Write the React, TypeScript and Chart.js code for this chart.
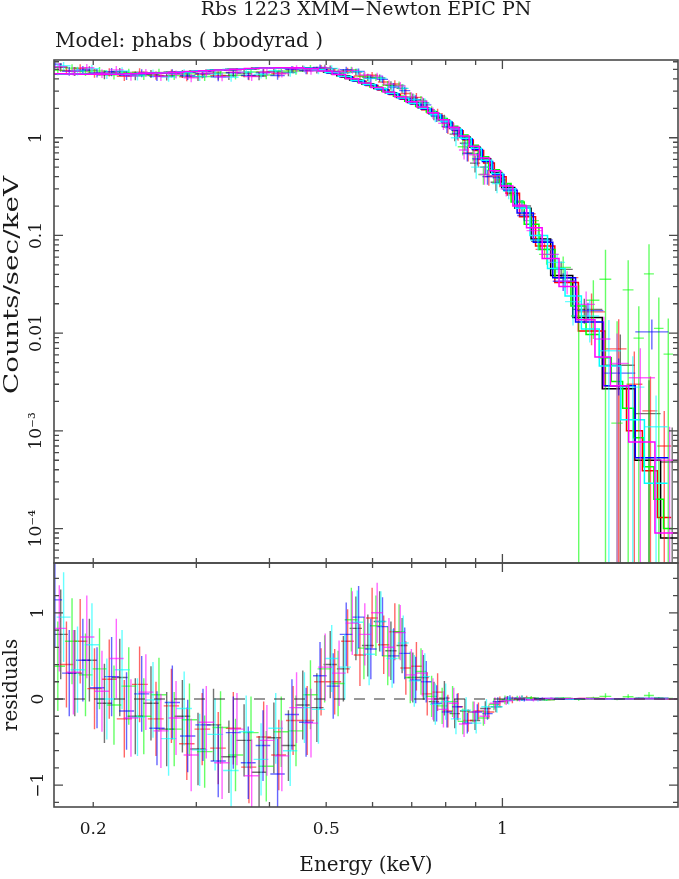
import { useEffect, useRef } from "react";
import { Chart, registerables } from "chart.js";

Chart.register(...registerables);

const W = 679;
const H = 879;

// ---- axis ranges ----
const X_MIN = 0.1714;
const X_MAX = 1.995;
const Y_MIN = 4.44e-5;
const Y_MAX = 6.25;
const R_MIN = -1.253;
const R_MAX = 1.578;

// ---- text ----
const titleText = "Rbs 1223 XMM\u2212Newton EPIC PN";
const modelText = "Model: phabs ( bbodyrad )";
const yTitleTop = "Counts/sec/keV";
const yTitleBottom = "residuals";
const xTitle = "Energy (keV)";

// ---- ticks ----
const xLabelValues = [0.2, 0.5, 1];
const xLabelText = ["0.2", "0.5", "1"];
const xMinorTickValues = [0.2, 0.3, 0.4, 0.5, 0.6, 0.7, 0.8, 0.9, 2];
const xMajorTickValues = [1];
const yLabelValues = [1e-4, 1e-3, 0.01, 0.1, 1];
const yLabelText = ["10\u207B\u2074", "10\u207B\u00B3", "0.01", "0.1", "1"];
const rLabelValues = [-1, 0, 1];
const rLabelText = ["\u22121", "0", "1"];
const rMinorTickValues = [-1.2, -0.8, -0.6, -0.4, -0.2, 0.2, 0.4, 0.6, 0.8, 1.2, 1.4];
const yMinorTickValues: number[] = [];
for (let p = -5; p <= 0; p++) for (let k = 2; k <= 9; k++) yMinorTickValues.push(k * Math.pow(10, p));

// ---- data: energy (keV), flux (counts/s/keV), 1-sigma error, residual, model ----
const blackE = [0.176,0.186,0.197,0.209,0.222,0.236,0.251,0.267,0.284,0.302,0.321,0.341,0.362,0.384,0.407,0.431,0.456,0.482,0.508,0.535,0.562,0.589,0.617,0.645,0.674,0.703,0.733,0.764,0.796,0.829,0.863,0.898,0.935,0.975,1.02,1.08,1.16,1.26,1.38,1.59,1.78,1.95];
const blackF = [5.26,4.79,4.92,4.42,4.73,4.32,4.51,4.28,4.51,4.22,4.59,4.31,4.59,4.29,4.74,4.67,5.10,4.94,5.10,4.65,4.72,4.17,4.10,3.44,3.20,2.55,2.28,1.74,1.52,1.09,0.88,0.55,0.50,0.35,0.30,0.20,0.087,0.045,0.0175,0.0047,0.0015,0.00048];
const blackS = [0.52,0.5,0.48,0.46,0.45,0.44,0.43,0.43,0.42,0.42,0.42,0.42,0.42,0.42,0.41,0.41,0.4,0.4,0.39,0.38,0.37,0.36,0.35,0.34,0.32,0.29,0.26,0.23,0.2,0.17,0.14,0.11,0.085,0.065,0.045,0.03,0.016,0.009,0.005,0.005,0.0018,0.0006];
const blackR = [0.75,0.30,0.45,-0.05,0.25,-0.20,-0.05,-0.35,-0.20,-0.58,-0.30,-0.67,-0.48,-0.85,-0.45,-0.54,-0.07,-0.10,0.40,0.35,0.82,0.62,0.90,0.56,0.62,0.25,0.25,-0.03,0.01,-0.17,-0.14,-0.25,-0.11,-0.09,-0.01,0.01,-0.005,0.006,0.003,0.002,0.001,0.0004];
const blackM = [4.51,4.49,4.47,4.47,4.48,4.52,4.56,4.63,4.71,4.80,4.89,4.98,5.07,5.14,5.19,5.21,5.17,5.04,4.70,4.30,3.90,3.55,3.20,2.88,2.58,2.30,2.03,1.77,1.51,1.26,1.02,0.80,0.61,0.44,0.31,0.19,0.092,0.039,0.0145,0.0027,0.0005,0.00008];

const redE = [0.180,0.190,0.201,0.213,0.226,0.240,0.256,0.272,0.289,0.307,0.327,0.347,0.369,0.391,0.415,0.439,0.464,0.490,0.517,0.544,0.571,0.599,0.627,0.655,0.684,0.713,0.744,0.775,0.807,0.840,0.874,0.910,0.948,0.990,1.04,1.10,1.18,1.28,1.42,1.58,1.68,1.79,1.89];
const redF = [4.90,5.15,4.59,4.70,4.26,4.70,4.35,4.57,4.21,4.47,4.35,4.67,4.30,4.72,4.55,4.95,4.88,5.15,4.77,4.84,4.29,4.37,3.72,3.55,2.84,2.59,2.00,1.76,1.28,1.09,0.70,0.60,0.40,0.37,0.26,0.167,0.072,0.037,0.0165,0.0069,0.0030,0.0016,0.0007];
const redS = [0.5,0.49,0.47,0.46,0.45,0.44,0.43,0.43,0.42,0.42,0.42,0.42,0.42,0.41,0.41,0.4,0.4,0.39,0.38,0.37,0.36,0.35,0.34,0.33,0.31,0.28,0.25,0.22,0.19,0.16,0.13,0.1,0.078,0.058,0.04,0.026,0.014,0.008,0.009,0.007,0.0035,0.002,0.0009];
const redR = [0.40,0.67,0.12,0.23,-0.23,0.17,-0.23,-0.08,-0.52,-0.35,-0.57,-0.34,-0.79,-0.44,-0.65,-0.25,-0.25,0.20,0.20,0.67,0.51,0.94,0.63,0.78,0.36,0.38,0.06,0.08,-0.14,-0.09,-0.25,-0.14,-0.15,-0.03,-0.01,0.012,-0.006,0.004,0.006,0.004,0.002,0.0012,0.0006];
const redM = [4.50,4.48,4.47,4.47,4.49,4.53,4.58,4.65,4.73,4.82,4.92,5.01,5.09,5.16,5.20,5.20,5.13,4.95,4.57,4.17,3.78,3.43,3.09,2.77,2.48,2.21,1.94,1.68,1.42,1.18,0.95,0.74,0.55,0.40,0.27,0.155,0.078,0.033,0.0105,0.0029,0.0010,0.00039,0.00013];

const greenE = [0.174,0.184,0.194,0.205,0.217,0.230,0.244,0.259,0.275,0.292,0.310,0.330,0.350,0.372,0.395,0.419,0.444,0.470,0.497,0.524,0.552,0.580,0.608,0.637,0.666,0.696,0.726,0.757,0.789,0.822,0.856,0.891,0.928,0.967,1.01,1.06,1.12,1.19,1.27,1.35,1.43,1.50,1.57,1.64,1.71,1.78,1.85,1.92];
const greenF = [4.89,5.16,4.76,4.82,4.41,4.65,4.34,4.65,4.32,4.51,4.23,4.61,4.37,4.71,4.39,4.82,4.83,5.15,5.19,4.64,4.97,4.26,4.16,3.47,3.44,2.62,2.41,1.86,1.49,1.28,0.81,0.69,0.42,0.41,0.33,0.226,0.142,0.064,0.047,0.015,0.0217,0.0356,0.0012,0.0277,0.0089,0.0404,0.0112,0.0061];
const greenS = [0.52,0.5,0.48,0.47,0.46,0.45,0.44,0.43,0.43,0.42,0.42,0.42,0.42,0.42,0.41,0.41,0.41,0.4,0.39,0.38,0.37,0.36,0.35,0.34,0.32,0.3,0.27,0.24,0.21,0.18,0.15,0.12,0.09,0.07,0.05,0.033,0.022,0.014,0.014,0.016,0.013,0.036,0.012,0.028,0.01,0.041,0.012,0.008];
const greenR = [0.38,0.67,0.28,0.35,-0.07,0.15,-0.20,0.05,-0.35,-0.24,-0.61,-0.33,-0.65,-0.39,-0.78,-0.38,-0.37,0.05,0.35,0.18,0.92,0.59,0.85,0.50,0.78,0.25,0.32,0.03,-0.08,-0.03,-0.26,-0.15,-0.22,-0.06,-0.01,0.006,0.012,-0.008,0.01,-0.004,0.012,0.03,-0.002,0.026,0.008,0.04,0.011,0.006];
const greenM = [4.51,4.49,4.48,4.47,4.48,4.50,4.54,4.60,4.67,4.75,4.84,4.94,5.02,5.10,5.17,5.20,5.20,5.10,4.84,4.46,4.05,3.67,3.31,2.97,2.66,2.37,2.09,1.83,1.57,1.31,1.07,0.84,0.64,0.47,0.34,0.22,0.13,0.072,0.037,0.019,0.0097,0.0056,0.0032,0.0017,0.00085,0.00043,0.0002,0.0001];

const blueE = [0.172,0.182,0.192,0.203,0.215,0.228,0.242,0.257,0.273,0.290,0.308,0.327,0.347,0.368,0.390,0.413,0.437,0.462,0.488,0.514,0.541,0.568,0.596,0.624,0.652,0.681,0.711,0.741,0.772,0.804,0.837,0.871,0.906,0.943,0.982,1.03,1.09,1.17,1.27,1.40,1.58,1.80];
const blueF = [5.67,4.80,4.93,4.60,4.73,4.35,4.59,4.25,4.61,4.31,4.53,4.20,4.62,4.35,4.61,4.33,5.03,4.88,5.23,4.76,4.96,4.77,4.05,3.96,3.31,3.04,2.45,2.17,1.66,1.30,1.11,0.69,0.61,0.40,0.39,0.30,0.16,0.090,0.034,0.017,0.0039,0.0103];
const blueS = [0.55,0.5,0.48,0.47,0.46,0.45,0.44,0.43,0.43,0.42,0.42,0.42,0.42,0.42,0.41,0.41,0.41,0.4,0.39,0.38,0.37,0.36,0.35,0.34,0.32,0.3,0.27,0.24,0.21,0.18,0.15,0.12,0.09,0.07,0.05,0.034,0.02,0.012,0.007,0.0035,0.0016,0.0035];
const blueR = [1.15,0.30,0.45,0.13,0.26,-0.14,0.06,-0.34,-0.04,-0.43,-0.30,-0.72,-0.39,-0.74,-0.54,-0.87,-0.18,-0.27,0.27,0.15,0.75,0.95,0.58,0.84,0.50,0.53,0.22,0.20,-0.05,-0.15,-0.09,-0.28,-0.15,-0.17,-0.03,0.01,-0.01,0.005,-0.003,0.004,0.001,0.0098];
const blueM = [4.52,4.50,4.48,4.47,4.47,4.49,4.53,4.59,4.65,4.74,4.83,4.92,5.01,5.09,5.15,5.20,5.21,5.15,4.96,4.61,4.21,3.82,3.47,3.12,2.81,2.51,2.23,1.97,1.71,1.45,1.20,0.97,0.76,0.57,0.42,0.29,0.17,0.085,0.037,0.013,0.0029,0.00053];

const cyanE = [0.178,0.188,0.199,0.211,0.224,0.238,0.253,0.269,0.286,0.304,0.323,0.344,0.365,0.387,0.410,0.434,0.459,0.485,0.511,0.538,0.565,0.592,0.620,0.648,0.677,0.707,0.737,0.768,0.800,0.833,0.867,0.902,0.939,0.979,1.025,1.08,1.15,1.24,1.32,1.41,1.52,1.67,1.83];
const cyanF = [5.45,4.83,5.10,4.47,4.82,4.31,4.56,4.18,4.61,4.22,4.49,4.16,4.70,4.45,4.85,4.61,5.06,4.88,5.13,4.63,4.75,4.03,4.07,3.32,3.20,2.47,2.26,1.68,1.45,1.00,0.86,0.50,0.50,0.34,0.285,0.198,0.090,0.053,0.021,0.015,0.0066,0.0028,0.0011];
const cyanS = [0.52,0.5,0.48,0.47,0.46,0.45,0.44,0.43,0.43,0.42,0.42,0.42,0.42,0.42,0.41,0.41,0.41,0.4,0.39,0.38,0.37,0.36,0.35,0.34,0.32,0.3,0.27,0.24,0.21,0.18,0.15,0.12,0.09,0.07,0.05,0.032,0.02,0.012,0.009,0.007,0.007,0.003,0.0012];
const cyanR = [0.95,0.34,0.63,0.00,0.34,-0.21,-0.01,-0.46,-0.11,-0.59,-0.41,-0.83,-0.38,-0.70,-0.34,-0.60,-0.10,-0.12,0.47,0.37,0.89,0.52,0.90,0.47,0.65,0.21,0.26,-0.06,-0.03,-0.23,-0.13,-0.28,-0.09,-0.09,-0.015,0.008,-0.01,0.007,-0.003,0.004,0.002,0.0015,0.0008];
const cyanM = [4.50,4.49,4.47,4.47,4.48,4.52,4.57,4.64,4.72,4.81,4.90,4.99,5.08,5.15,5.19,5.21,5.16,5.00,4.66,4.26,3.86,3.51,3.17,2.85,2.55,2.26,2.00,1.74,1.48,1.23,0.99,0.78,0.59,0.43,0.30,0.19,0.10,0.046,0.024,0.011,0.0046,0.0013,0.00029];

const magentaE = [0.175,0.185,0.195,0.207,0.219,0.232,0.246,0.261,0.277,0.294,0.312,0.332,0.352,0.373,0.396,0.420,0.445,0.471,0.498,0.526,0.554,0.582,0.611,0.640,0.669,0.699,0.730,0.761,0.793,0.826,0.860,0.895,0.932,0.971,1.015,1.07,1.13,1.21,1.29,1.39,1.49,1.57,1.72,1.93];
const magentaF = [5.33,4.80,5.20,4.56,4.95,4.29,4.63,4.24,4.46,4.11,4.58,4.21,4.68,4.22,4.69,4.54,5.10,4.82,5.20,4.73,4.90,4.39,4.27,3.54,3.40,2.62,2.36,1.80,1.41,1.23,0.75,0.67,0.42,0.41,0.30,0.205,0.112,0.064,0.034,0.0197,0.0087,0.0049,0.0035,0.0005];
const magentaS = [0.5,0.49,0.48,0.47,0.46,0.45,0.44,0.43,0.43,0.42,0.42,0.42,0.42,0.42,0.41,0.41,0.41,0.4,0.39,0.38,0.37,0.36,0.35,0.34,0.32,0.3,0.27,0.24,0.21,0.18,0.15,0.12,0.09,0.07,0.05,0.033,0.02,0.012,0.009,0.007,0.006,0.005,0.0035,0.0006];
const magentaR = [0.82,0.31,0.72,0.09,0.47,-0.22,0.08,-0.37,-0.22,-0.65,-0.27,-0.74,-0.35,-0.89,-0.48,-0.66,-0.10,-0.28,0.37,0.30,0.88,0.75,1.00,0.60,0.77,0.28,0.30,0.00,-0.12,-0.05,-0.29,-0.15,-0.20,-0.05,-0.02,0.005,-0.008,0.006,0.004,0.006,0.003,0.002,0.0027,0.0004];
const magentaM = [4.51,4.49,4.48,4.47,4.48,4.51,4.55,4.61,4.68,4.76,4.85,4.95,5.03,5.11,5.17,5.20,5.20,5.10,4.83,4.43,4.02,3.64,3.27,2.94,2.63,2.34,2.06,1.80,1.53,1.28,1.04,0.82,0.62,0.46,0.32,0.20,0.12,0.058,0.030,0.0137,0.0057,0.0029,0.00077,0.00009];

const SERIES = [
  { color: "#000000", alpha: 0.55, e: blackE, f: blackF, s: blackS, r: blackR, m: blackM },
  { color: "#ff0000", alpha: 0.6, e: redE, f: redF, s: redS, r: redR, m: redM },
  { color: "#00ff00", alpha: 0.6, e: greenE, f: greenF, s: greenS, r: greenR, m: greenM },
  { color: "#0000ff", alpha: 0.6, e: blueE, f: blueF, s: blueS, r: blueR, m: blueM },
  { color: "#00ffff", alpha: 0.6, e: cyanE, f: cyanF, s: cyanS, r: cyanR, m: cyanM },
  { color: "#ff00ff", alpha: 0.6, e: magentaE, f: magentaF, s: magentaS, r: magentaR, m: magentaM },
];

// ---- styling ----
const FONT = '"DejaVu Serif"';
const TEXT_COLOR = "#1a1a1a";
const FRAME_COLOR = "#4a4a4a";

function rgba(hex: string, a: number) {
  const n = parseInt(hex.slice(1), 16);
  return `rgba(${(n >> 16) & 255},${(n >> 8) & 255},${n & 255},${a})`;
}

function binEdges(e: number[]) {
  const lo: number[] = [];
  const hi: number[] = [];
  const n = e.length;
  for (let i = 0; i < n; i++) {
    lo.push(i > 0 ? Math.sqrt(e[i - 1] * e[i]) : e[i] / Math.sqrt(e[i + 1] / e[i]));
    hi.push(i < n - 1 ? Math.sqrt(e[i] * e[i + 1]) : e[i] * Math.sqrt(e[i] / e[i - 1]));
  }
  return { lo, hi };
}

function lineDs(data: any[], color: string, width: number, k: number, dash: number[] = []) {
  return {
    type: "line",
    data,
    borderColor: color,
    borderWidth: width,
    borderDash: dash,
    borderCapStyle: "butt",
    pointRadius: 0,
    pointHoverRadius: 0,
    fill: false,
    spanGaps: false,
    tension: 0,
    order: 10000 - k,
  };
}

function spectrumDatasets() {
  const ds: any[] = [];
  let k = 0;
  SERIES.forEach((sr) => {
    const { lo, hi } = binEdges(sr.e);
    const n = Math.min(sr.e.length, sr.f.length, sr.s.length, sr.m.length);
    const vb: any[] = [];
    const hb: any[] = [];
    const md: any[] = [];
    for (let i = 0; i < n; i++) {
      const f = sr.f[i];
      const s = sr.s[i];
      const low = f - s > 0 ? f - s : 1e-9;
      vb.push({ x: sr.e[i], y: low }, { x: sr.e[i], y: f + s }, { x: sr.e[i], y: null });
      hb.push({ x: lo[i], y: f }, { x: hi[i], y: f }, { x: hi[i], y: null });
      md.push({ x: lo[i], y: sr.m[i] }, { x: hi[i], y: sr.m[i] });
    }
    ds.push(lineDs(vb, rgba(sr.color, sr.alpha), 1.4, k++));
    ds.push(lineDs(hb, rgba(sr.color, sr.alpha), 1.4, k++));
    ds.push(lineDs(md, sr.color, 1.5, k++));
  });
  return ds;
}

function residualDatasets() {
  const ds: any[] = [];
  let k = 0;
  SERIES.forEach((sr) => {
    const { lo, hi } = binEdges(sr.e);
    const n = Math.min(sr.e.length, sr.r.length, sr.s.length);
    const vb: any[] = [];
    const hb: any[] = [];
    for (let i = 0; i < n; i++) {
      const r = sr.r[i];
      const s = sr.s[i];
      vb.push({ x: sr.e[i], y: r - s }, { x: sr.e[i], y: r + s }, { x: sr.e[i], y: null });
      hb.push({ x: lo[i], y: r }, { x: hi[i], y: r }, { x: hi[i], y: null });
    }
    ds.push(lineDs(vb, rgba(sr.color, sr.alpha), 1.4, k++));
    ds.push(lineDs(hb, rgba(sr.color, sr.alpha), 1.4, k++));
  });
  ds.push(lineDs([{ x: X_MIN, y: 0 }, { x: X_MAX, y: 0 }], "rgba(30,30,30,0.9)", 1.2, k++, [11, 9]));
  return ds;
}

function framePlugin(xMajor: number[], xMinor: number[], yMajor: number[], yMinor: number[]) {
  return {
    id: "xspecFrame",
    afterDatasetsDraw(chart: any) {
      const { ctx, chartArea: a } = chart;
      const xs = chart.scales.x;
      const ys = chart.scales.y;
      ctx.save();
      ctx.strokeStyle = FRAME_COLOR;
      ctx.lineWidth = 1.3;
      ctx.beginPath();
      const tx = (v: number, len: number) => {
        const p = xs.getPixelForValue(v);
        if (p < a.left + 1 || p > a.right - 1) return;
        ctx.moveTo(p, a.bottom);
        ctx.lineTo(p, a.bottom - len);
        ctx.moveTo(p, a.top);
        ctx.lineTo(p, a.top + len);
      };
      const ty = (v: number, len: number) => {
        const p = ys.getPixelForValue(v);
        if (p < a.top + 1 || p > a.bottom - 1) return;
        ctx.moveTo(a.left, p);
        ctx.lineTo(a.left + len, p);
        ctx.moveTo(a.right, p);
        ctx.lineTo(a.right - len, p);
      };
      xMinor.forEach((v) => tx(v, 5));
      xMajor.forEach((v) => tx(v, 9));
      yMinor.forEach((v) => ty(v, 5));
      yMajor.forEach((v) => ty(v, 9));
      ctx.stroke();
      ctx.lineWidth = 1.6;
      ctx.strokeRect(a.left, a.top, a.right - a.left, a.bottom - a.top);
      ctx.restore();
    },
  };
}

const topTextPlugin = {
  id: "topText",
  afterDraw(chart: any) {
    const { ctx, chartArea: a } = chart;
    ctx.save();
    ctx.fillStyle = TEXT_COLOR;
    ctx.textBaseline = "middle";
    ctx.textAlign = "center";
    ctx.font = `19px ${FONT}`;
    ctx.fillText(titleText, (a.left + a.right) / 2, 10);
    ctx.textAlign = "left";
    ctx.font = `20px ${FONT}`;
    ctx.fillText(modelText, a.left + 1, 42);
    // vertical axis title (wide, light lettering as in the PGPLOT original)
    ctx.translate(13, 285);
    ctx.rotate(-Math.PI / 2);
    ctx.textAlign = "center";
    ctx.font = `20px ${FONT}`;
    const w = ctx.measureText(yTitleTop).width;
    const stretch = 218 / w;
    ctx.scale(stretch, 1);
    ctx.fillText(yTitleTop, 0, 0);
    ctx.restore();
  },
};

const tickFont = { family: FONT, size: 17 };

export default function App() {
  const topRef = useRef<HTMLCanvasElement>(null);
  const botRef = useRef<HTMLCanvasElement>(null);

  useEffect(() => {
    const common = {
      responsive: false,
      animation: false,
      devicePixelRatio: 1,
      events: [],
      plugins: { legend: { display: false }, tooltip: { enabled: false } },
    };

    const top = new Chart(topRef.current as HTMLCanvasElement, {
      type: "line",
      data: { datasets: spectrumDatasets() },
      options: {
        ...common,
        layout: { padding: { left: 0, right: 1, top: 60, bottom: H - 563 } },
        scales: {
          x: { type: "logarithmic", min: X_MIN, max: X_MAX, display: false },
          y: {
            type: "logarithmic",
            position: "left",
            min: Y_MIN,
            max: Y_MAX,
            afterBuildTicks: (s: any) => {
              s.ticks = yLabelValues.map((v) => ({ value: v }));
            },
            afterFit: (s: any) => {
              s.width = 54;
            },
            grid: { display: false },
            border: { display: false },
            ticks: {
              callback: (_v: any, i: number) => yLabelText[i],
              minRotation: 90,
              maxRotation: 90,
              autoSkip: false,
              padding: -10,
              crossAlign: "center",
              color: TEXT_COLOR,
              font: tickFont,
            },
          },
        },
      } as any,
      plugins: [framePlugin(xMajorTickValues, xMinorTickValues, yLabelValues, yMinorTickValues), topTextPlugin],
    } as any);

    const bot = new Chart(botRef.current as HTMLCanvasElement, {
      type: "line",
      data: { datasets: residualDatasets() },
      options: {
        ...common,
        layout: { padding: { left: 0, right: 1, top: 563, bottom: 0 } },
        scales: {
          x: {
            type: "logarithmic",
            position: "bottom",
            min: X_MIN,
            max: X_MAX,
            afterBuildTicks: (s: any) => {
              s.ticks = xLabelValues.map((v) => ({ value: v }));
            },
            afterFit: (s: any) => {
              s.height = H - 807;
            },
            grid: { display: false },
            border: { display: false },
            ticks: {
              callback: (_v: any, i: number) => xLabelText[i],
              minRotation: 0,
              maxRotation: 0,
              autoSkip: false,
              padding: 4,
              color: TEXT_COLOR,
              font: tickFont,
            },
            title: {
              display: true,
              text: xTitle,
              color: TEXT_COLOR,
              font: { family: FONT, size: 20 },
              padding: { top: 0, bottom: 1 },
            },
          },
          y: {
            type: "linear",
            position: "left",
            min: R_MIN,
            max: R_MAX,
            afterBuildTicks: (s: any) => {
              s.ticks = rLabelValues.map((v) => ({ value: v }));
            },
            afterFit: (s: any) => {
              s.width = 54;
            },
            grid: { display: false },
            border: { display: false },
            ticks: {
              callback: (_v: any, i: number) => rLabelText[i],
              minRotation: 90,
              maxRotation: 90,
              autoSkip: false,
              padding: -5,
              crossAlign: "center",
              color: TEXT_COLOR,
              font: tickFont,
            },
            title: {
              display: true,
              text: yTitleBottom,
              color: TEXT_COLOR,
              font: { family: FONT, size: 20 },
              padding: { top: 0, bottom: 0 },
            },
          },
        },
      } as any,
      plugins: [framePlugin(xMajorTickValues, xMinorTickValues, rLabelValues, rMinorTickValues)],
    } as any);

    return () => {
      top.destroy();
      bot.destroy();
    };
  }, []);

  return (
    <div style={{ position: "absolute", left: 0, top: 0, width: W, height: H, background: "#ffffff" }}>
      <canvas ref={topRef} width={W} height={H} style={{ position: "absolute", left: 0, top: 0 }} />
      <canvas ref={botRef} width={W} height={H} style={{ position: "absolute", left: 0, top: 0 }} />
    </div>
  );
}
